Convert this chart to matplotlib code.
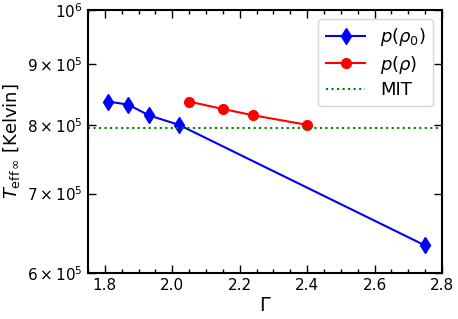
import numpy as np
import matplotlib.pyplot as plt
from matplotlib.ticker import MultipleLocator, NullLocator

# data
gamma_rho0 = [1.81, 1.87, 1.93, 2.02, 2.75]
teff_rho0 = [8.37e5, 8.32e5, 8.15e5, 8.00e5, 6.33e5]

gamma_rho = [2.05, 2.15, 2.24, 2.40]
teff_rho = [8.37e5, 8.25e5, 8.15e5, 8.00e5]

teff_mit = 7.95e5

yticks = [6e5, 7e5, 8e5, 9e5, 1e6]
ytick_labels = [r"$6\times10^5$", r"$7\times10^5$", r"$8\times10^5$",
                r"$9\times10^5$", r"$10^6$"]

fig = plt.figure(figsize=(4.58, 3.19), dpi=100)
ax = fig.add_axes([0.192, 0.144, 0.773, 0.825])

ax.plot(gamma_rho0, teff_rho0, color="blue", marker="d", markersize=8,
        lw=1.5, label=r"$p(\rho_0)$")
ax.plot(gamma_rho, teff_rho, color="red", marker="o", markersize=7,
        lw=1.5, label=r"$p(\rho)$")
ax.axhline(teff_mit, color="green", ls=":", lw=1.5, label="MIT")

ax.set_yscale("log")
ax.set_ylim(6e5, 1e6)
ax.set_xlim(1.75, 2.8)
ax.yaxis.set_minor_locator(NullLocator())
ax.set_yticks(yticks)
ax.set_yticklabels(ytick_labels)
ax.xaxis.set_major_locator(MultipleLocator(0.2))
ax.xaxis.set_minor_locator(MultipleLocator(0.05))

ax.tick_params(which="both", direction="in", top=True, right=True,
               labelsize=11)
ax.tick_params(which="major", length=6, width=1)
ax.tick_params(which="minor", length=3, width=1)
for s in ax.spines.values():
    s.set_linewidth(1.5)

ax.set_xlabel(r"$\Gamma$", fontsize=14, labelpad=2)
ax.set_ylabel(r"$T_{\rm eff\,\infty}$ [Kelvin]", fontsize=13)
ax.legend(loc="upper right", fontsize=13, labelspacing=0.3,
          handlelength=2.2)

fig.savefig("out.png", dpi=100)
